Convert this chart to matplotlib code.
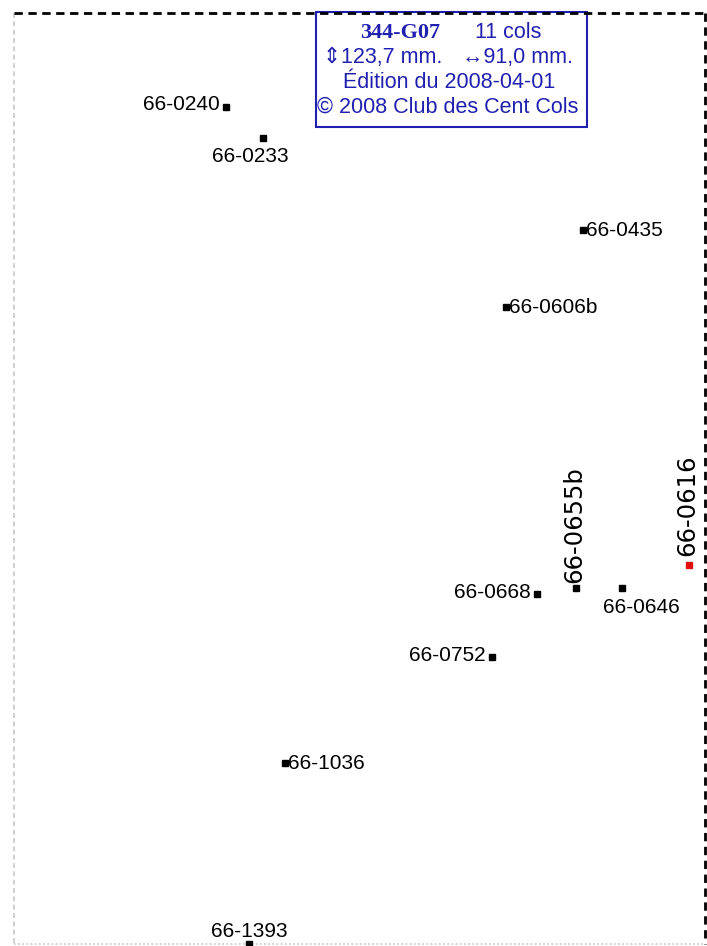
import matplotlib
matplotlib.use("Agg")
import matplotlib.pyplot as plt
from matplotlib.patches import Rectangle

plt.rcParams['font.family'] = ['Liberation Sans', 'DejaVu Sans']

# Cols (position on the sheet, in pixels)
noms = ["66-0240", "66-0233", "66-0435", "66-0606b", "66-0616", "66-0655b",
        "66-0646", "66-0668", "66-0752", "66-1036", "66-1393"]
x_cols = [226, 263, 583, 506, 689, 576, 622, 537, 492, 285, 249]
y_cols = [107, 138, 230, 307, 565, 588, 588, 594, 657, 763, 944]
couleurs = ["black", "black", "black", "black", "#e01010", "black",
            "black", "black", "black", "black", "black"]
# placement of each label relative to its marker
placement = ["left", "below", "right", "right", "up", "up",
             "below", "left", "left", "right", "above"]

titre = "344-G07"
nb_cols = "11 cols"
hauteur = "\u21D5123,7 mm."
largeur = "\u219491,0 mm."
edition = "Édition du 2008-04-01"
copyright_txt = "© 2008 Club des Cent Cols"

W, H = 707, 946
fig = plt.figure(figsize=(W / 100, H / 100), dpi=100)
ax = fig.add_axes([0, 0, 1, 1])
ax.set_xlim(0, W)
ax.set_ylim(H, 0)
ax.axis("off")

# Cadre
ax.plot([14, 705], [13, 13], color="black", lw=2, ls=(0, (3, 2)), zorder=5)
ax.plot([705, 705], [13, 944], color="black", lw=2, ls=(0, (3, 2)), zorder=5)
ax.plot([14, 14], [13, 944], color="#c8c8c8", lw=1.2, ls=(0, (3, 2)))
ax.plot([14, 705], [944, 944], color="#c8c8c8", lw=1.2, ls=(0, (1, 1.5)))

fs = 15
for nom, x, y, c, p in zip(noms, x_cols, y_cols, couleurs, placement):
    ax.plot(x, y, marker="s", ms=4.5, color=c, mec=c, ls="none", clip_on=False)
    if p == "left":
        ax.text(x - 6, y - 2, nom, ha="right", va="center", fontsize=fs)
    elif p == "right":
        ax.text(x + 3, y, nom, ha="left", va="center", fontsize=fs)
    elif p == "below":
        ax.text(x + 19 if nom == "66-0646" else x - 13, y + 19, nom,
                ha="center", va="center", fontsize=fs)
    elif p == "above":
        ax.text(x, y - 13, nom, ha="center", va="center", fontsize=fs)
    elif p == "up":
        # vertical labels look stretched in the original -> wider font
        decal = 9 if nom == "66-0616" else 5
        ax.text(x - 2, y - decal, nom, ha="center", va="bottom", rotation=90,
                fontsize=17.5, family="DejaVu Sans")

# Cartouche
bleu = "#2020b0"
ax.add_patch(Rectangle((316, 12), 271, 115, fill=True, facecolor="white",
                       edgecolor=bleu, lw=1.5))
fb = 15.5
ax.text(400, 33, titre, ha="center", va="center", fontsize=16,
        fontweight="bold", family="Liberation Serif", color=bleu)
ax.text(508, 33, nb_cols, ha="center", va="center", fontsize=fb, color=bleu)
ax.text(383, 58, hauteur, ha="center", va="center", fontsize=fb, color=bleu)
ax.text(518, 58, largeur, ha="center", va="center", fontsize=fb, color=bleu)
ax.text(449, 82, edition, ha="center", va="center", fontsize=fb, color=bleu)
ax.text(448, 107, copyright_txt, ha="center", va="center", fontsize=fb,
        color=bleu)

fig.savefig("out.png", dpi=100)
